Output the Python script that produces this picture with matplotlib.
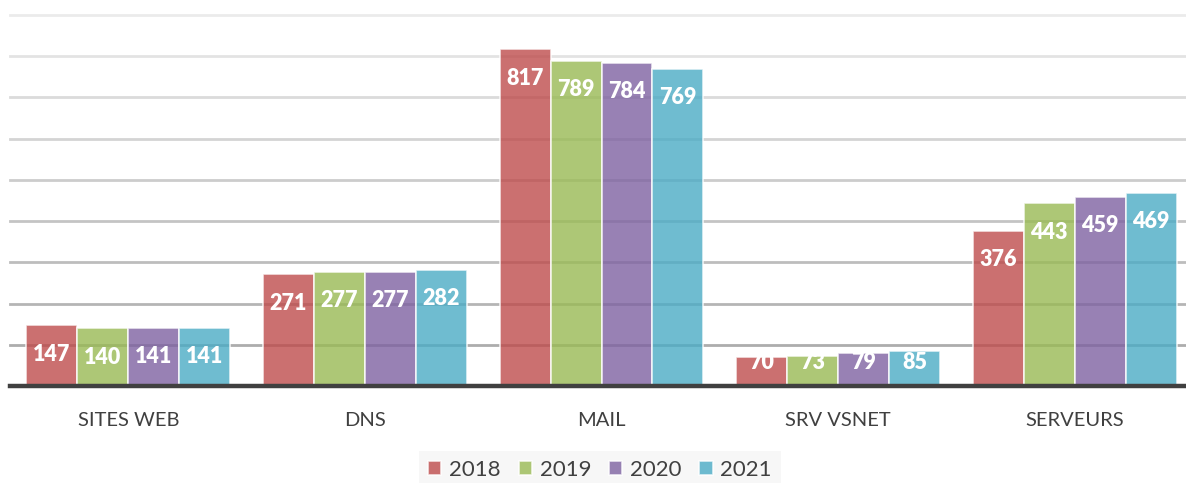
import matplotlib
matplotlib.use("Agg")
import matplotlib.pyplot as plt
import numpy as np

categories = ["SITES WEB", "DNS", "MAIL", "SRV VSNET", "SERVEURS"]
years = ["2018", "2019", "2020", "2021"]
v2018 = [147, 271, 817, 70, 376]
v2019 = [140, 277, 789, 73, 443]
v2020 = [141, 277, 784, 79, 459]
v2021 = [141, 282, 769, 85, 469]
series = [v2018, v2019, v2020, v2021]
colors = ["#be4c4c", "#99ba54", "#7e62a1", "#4babc5"]

plt.rcParams['font.family'] = ['Lato', 'DejaVu Sans']

fig = plt.figure(figsize=(11.86, 4.83), dpi=100)
ax = fig.add_axes([10/1186, 97/483, 1183/1186, (386-15)/483])
ax.set_xlim(-0.5, 4.5)
ax.set_ylim(0, 900)

# gradient gridlines
grid_vals = np.arange(100, 901, 100)
for i, gv in enumerate(grid_vals):
    g = 0.68 + (0.92 - 0.68) * i / (len(grid_vals) - 1)
    ax.axhline(gv, color=(g, g, g), lw=2, zorder=0.5, clip_on=False)

x = np.arange(len(categories))
w = 0.2155
for k, (vals, c, yr) in enumerate(zip(series, colors, years)):
    pos = x + (k - 1.5) * w
    ax.bar(pos, vals, width=w, color=c, alpha=0.8, edgecolor=(1, 1, 1, 0.45),
           linewidth=1.2, label=yr, zorder=2)
    for p, v in zip(pos, vals):
        ly = max(v - 70, 58)
        ax.text(p, ly, str(v), ha="center", va="center", color="white",
                fontsize=15.5, fontweight="heavy", zorder=3)

for s in ["top", "right", "left"]:
    ax.spines[s].set_visible(False)
ax.spines["bottom"].set_color("#404040")
ax.spines["bottom"].set_linewidth(3.2)
ax.spines["bottom"].set_zorder(4)
ax.set_yticks([])
ax.set_xticks(x)
ax.set_xticklabels(categories, fontsize=14.5, color="#404040")
ax.tick_params(axis="x", length=0, pad=19)

leg = fig.legend(loc="center", bbox_to_anchor=(600/1186, 1 - 470/483), ncol=4,
                 frameon=True, fontsize=16, handlelength=0.6, handleheight=0.6,
                 handletextpad=0.35, columnspacing=0.8, borderpad=0.4)
leg.get_frame().set_facecolor("#f6f6f6")
leg.get_frame().set_edgecolor("none")
leg.get_frame().set_boxstyle("square", pad=0)
for t in leg.get_texts():
    t.set_color("#404040")

fig.savefig("out.png", dpi=100)
